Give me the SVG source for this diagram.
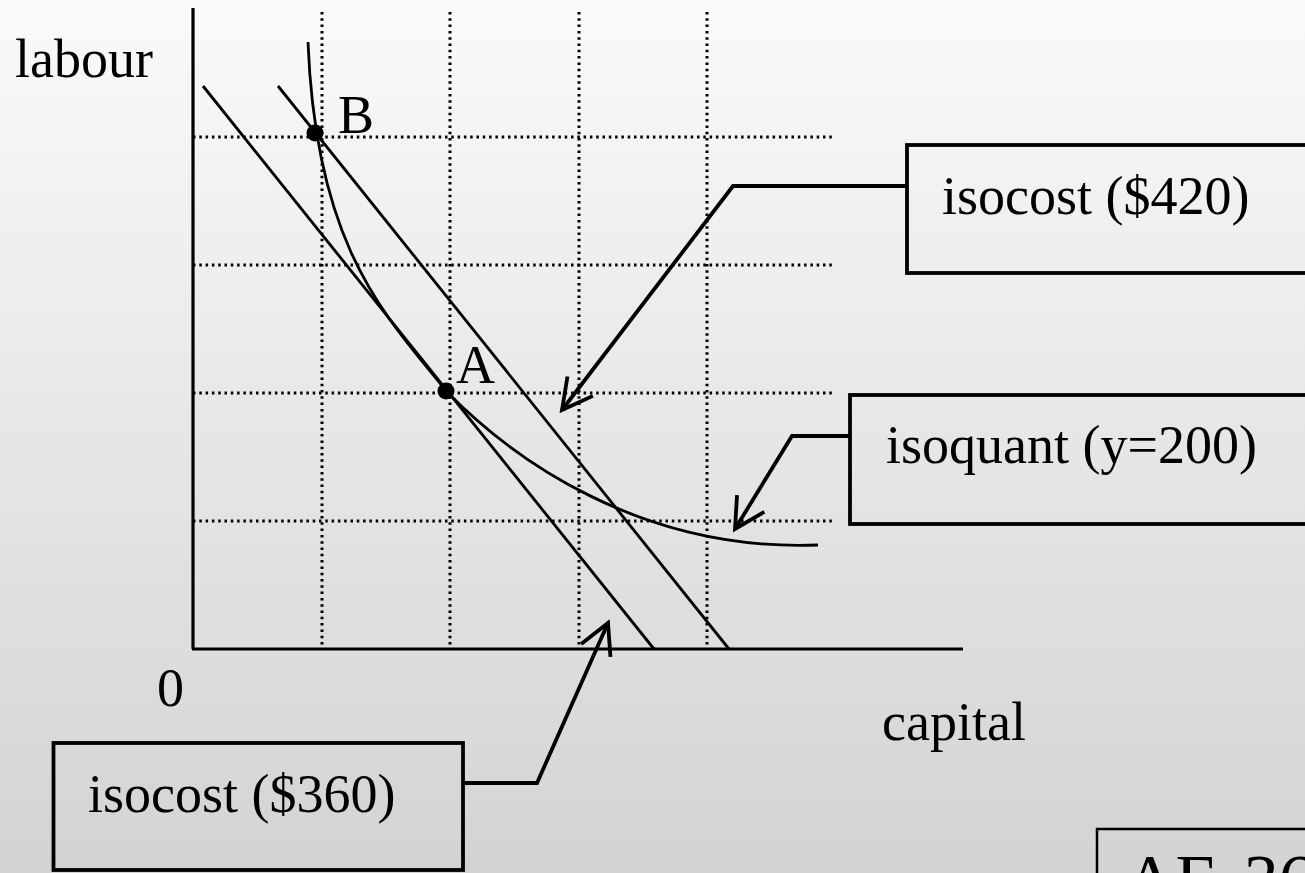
<svg xmlns="http://www.w3.org/2000/svg" width="1305" height="873" viewBox="0 0 1305 873">
<defs>
<linearGradient id="bg" x1="0" y1="0" x2="0" y2="1">
<stop offset="0" stop-color="#fafafa"/>
<stop offset="1" stop-color="#d3d3d3"/>
</linearGradient>
<marker id="arr" markerUnits="userSpaceOnUse" viewBox="0 0 40 40" refX="34" refY="20" markerWidth="40" markerHeight="40" orient="auto">
<path d="M4,4 L34,20 L4,36" fill="none" stroke="#000" stroke-width="3.8"/>
</marker>
</defs>
<style>
.t{font-family:"Liberation Serif","Times New Roman",serif;font-size:54px;fill:#000}
.grid{stroke:#000;stroke-width:3;stroke-dasharray:2.5 3.8;fill:none}
.axis{stroke:#000;stroke-width:3.2;fill:none}
.cost{stroke:#000;stroke-width:2.8;fill:none}
.box{fill:none;stroke:#000;stroke-width:3.8}
.conn{fill:none;stroke:#000;stroke-width:3.8;marker-end:url(#arr)}
</style>
<rect width="1305" height="873" fill="url(#bg)"/>
<g id="grid">
<line class="grid" x1="322" y1="12" x2="322" y2="649"/>
<line class="grid" x1="450" y1="12" x2="450" y2="649"/>
<line class="grid" x1="579" y1="12" x2="579" y2="649"/>
<line class="grid" x1="707" y1="12" x2="707" y2="649"/>
<line class="grid" x1="193" y1="137" x2="833" y2="137"/>
<line class="grid" x1="193" y1="265" x2="833" y2="265"/>
<line class="grid" x1="193" y1="393" x2="833" y2="393"/>
<line class="grid" x1="193" y1="521" x2="833" y2="521"/>
</g>
<g id="axes">
<line class="axis" x1="193" y1="8" x2="193" y2="649"/>
<line class="axis" x1="192" y1="649" x2="963" y2="649"/>
<text class="t" x="15" y="77">labour</text>
<text class="t" x="882" y="740">capital</text>
<text class="t" x="157" y="706">0</text>
</g>
<g id="isocost360"><line class="cost" x1="203" y1="86" x2="654" y2="649"/></g>
<g id="isocost420"><line class="cost" x1="278" y1="86" x2="729" y2="649"/></g>
<g id="isoquant"><path class="cost" d="M308,42 C316,250 387,317 447,392 C512,458 640,552 818,545"/></g>
<g id="pointB">
<circle cx="315" cy="133" r="8.5" fill="#000"/>
<text class="t" x="338" y="133">B</text>
</g>
<g id="pointA">
<circle cx="446" cy="391" r="8.5" fill="#000"/>
<text class="t" x="456" y="383">A</text>
</g>
<g id="box420">
<rect class="box" x="907" y="145" width="420" height="128"/>
<text class="t" x="942" y="214">isocost ($420)</text>
</g>
<g id="boxIsoquant">
<rect class="box" x="850" y="395" width="480" height="129"/>
<text class="t" x="886" y="463">isoquant (y=200)</text>
</g>
<g id="box360">
<rect class="box" x="53.5" y="743" width="409.5" height="127"/>
<text class="t" x="88" y="812">isocost ($360)</text>
</g>
<g id="boxAE">
<rect x="1097" y="829" width="240" height="100" fill="none" stroke="#000" stroke-width="2.5"/>
<text class="t" x="1125" y="903" style="font-size:70px;word-spacing:8px">AE 36</text>
</g>
<g id="connectors">
<polyline class="conn" points="907,186 733,186 562,410"/>
<polyline class="conn" points="850,436 792,436 735,529"/>
<polyline class="conn" points="463,783 537,783 608,623"/>
</g>
</svg>
